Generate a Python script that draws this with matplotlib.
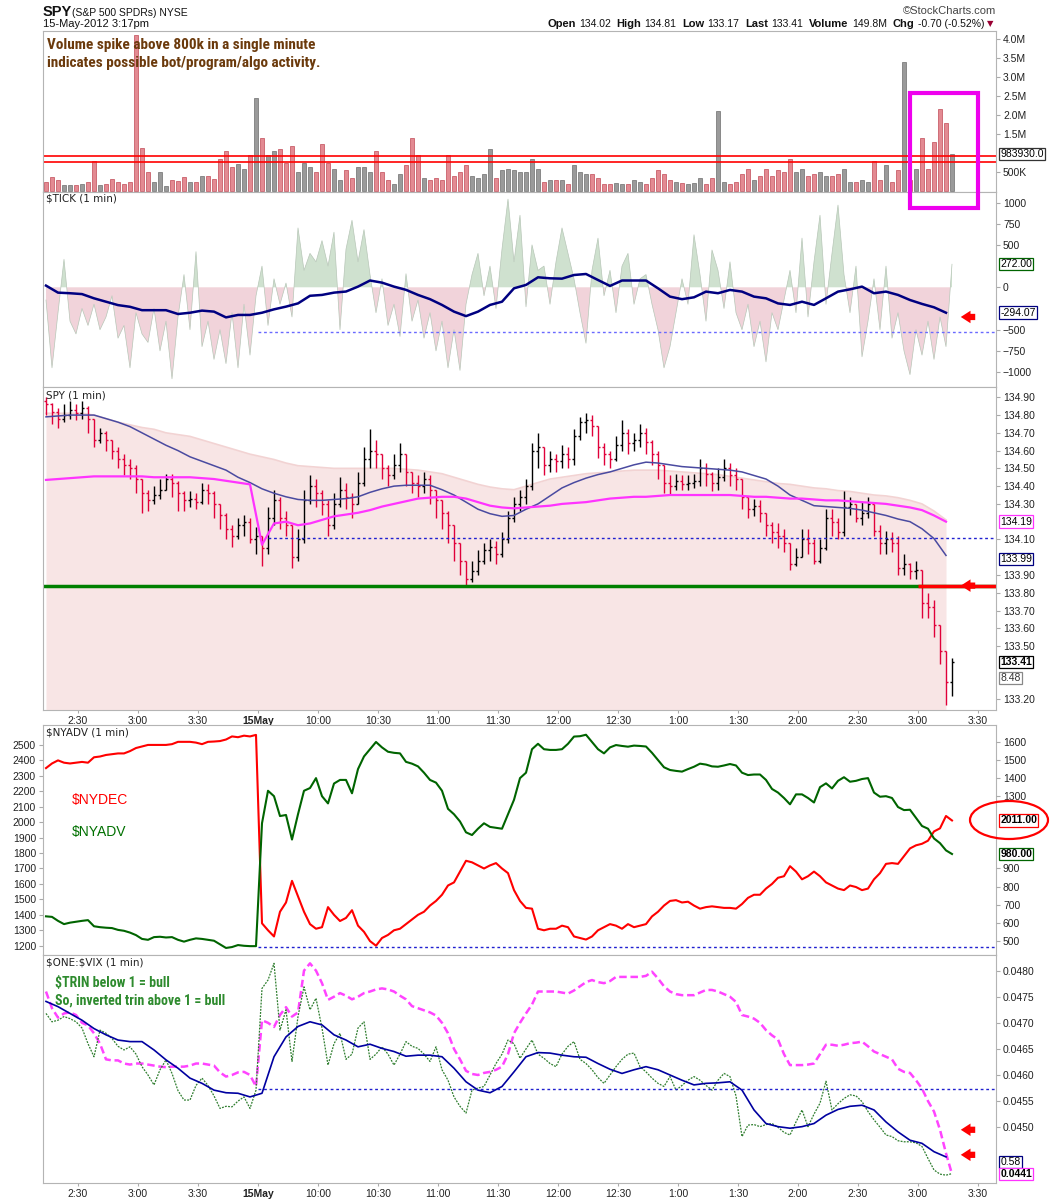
import os
import numpy as np
import matplotlib
matplotlib.use('Agg')
import matplotlib.pyplot as plt
import matplotlib.patches as mpatches
from matplotlib import font_manager
from matplotlib.font_manager import FontProperties

# ---------------- data ----------------
# x = minutes from the 15-May 9:30 open, negative = previous afternoon.
# jagged series sampled every 3 min, smooth averages every 6 min
bar_start, bar_step = -106, 3
ma_start, ma_step = -106, 6

spy_close = [134.86, 134.82, 134.78, 134.80, 134.83, 134.81, 134.84, 134.78, 134.66, 134.70,
             134.66, 134.60, 134.55, 134.52, 134.50, 134.44, 134.36, 134.32, 134.35, 134.38,
             134.44, 134.42, 134.36, 134.32, 134.33, 134.31, 134.38, 134.36, 134.30, 134.24,
             134.16, 134.12, 134.18, 134.20, 134.10, 134.12, 134.05, 134.22, 134.32, 134.22,
             134.18, 134.00, 134.10, 134.32, 134.40, 134.36, 134.30, 134.18, 134.30, 134.38,
             134.34, 134.30, 134.42, 134.55, 134.60, 134.58, 134.50, 134.46, 134.52, 134.58,
             134.48, 134.42, 134.40, 134.44, 134.38, 134.32, 134.25, 134.18, 134.08, 133.98,
             133.88, 133.92, 133.98, 134.04, 134.06, 134.02, 134.10, 134.22, 134.30, 134.34,
             134.40, 134.60, 134.62, 134.52, 134.55, 134.54, 134.58, 134.55, 134.68, 134.76,
             134.77, 134.74, 134.62, 134.58, 134.55, 134.63, 134.70, 134.64, 134.66, 134.70,
             134.65, 134.58, 134.52, 134.42, 134.40, 134.43, 134.41, 134.42, 134.43, 134.50,
             134.47, 134.42, 134.45, 134.50, 134.46, 134.44, 134.34, 134.27, 134.29, 134.25,
             134.18, 134.14, 134.12, 134.08, 133.96, 134.00, 134.10, 134.08, 133.98, 134.05,
             134.22, 134.20, 134.14, 134.28, 134.30, 134.22, 134.25, 134.30, 134.15, 134.08,
             134.10, 134.08, 133.94, 133.96, 133.92, 133.93, 133.74, 133.72, 133.62, 133.47,
             133.30, 133.41]
spy_high = [134.90, 134.87, 134.84, 134.86, 134.88, 134.86, 134.88, 134.85, 134.76, 134.73,
            134.71, 134.66, 134.62, 134.58, 134.55, 134.52, 134.44, 134.38, 134.40, 134.44,
            134.47, 134.47, 134.43, 134.37, 134.37, 134.36, 134.42, 134.41, 134.37, 134.30,
            134.25, 134.18, 134.22, 134.24, 134.22, 134.17, 134.12, 134.28, 134.38, 134.34,
            134.26, 134.18, 134.16, 134.38, 134.46, 134.44, 134.38, 134.32, 134.36, 134.45,
            134.42, 134.36, 134.48, 134.62, 134.72, 134.66, 134.58, 134.52, 134.58, 134.64,
            134.58, 134.48, 134.46, 134.48, 134.46, 134.38, 134.32, 134.26, 134.16, 134.06,
            133.96, 133.98, 134.04, 134.08, 134.10, 134.09, 134.14, 134.26, 134.34, 134.38,
            134.44, 134.64, 134.70, 134.62, 134.60, 134.58, 134.63, 134.62, 134.72, 134.79,
            134.81, 134.80, 134.74, 134.64, 134.60, 134.68, 134.77, 134.72, 134.70, 134.75,
            134.73, 134.66, 134.60, 134.52, 134.46, 134.47, 134.46, 134.46, 134.47, 134.55,
            134.53, 134.48, 134.50, 134.55, 134.53, 134.50, 134.42, 134.32, 134.33, 134.32,
            134.25, 134.20, 134.19, 134.16, 134.06, 134.05, 134.16, 134.16, 134.10, 134.10,
            134.27, 134.27, 134.22, 134.37, 134.34, 134.30, 134.31, 134.34, 134.28, 134.18,
            134.15, 134.14, 134.12, 134.02, 133.97, 133.98, 133.90, 133.80, 133.76, 133.62,
            133.44, 133.43]
spy_low = [134.80, 134.75, 134.73, 134.76, 134.78, 134.77, 134.78, 134.70, 134.62, 134.64,
           134.60, 134.55, 134.50, 134.46, 134.44, 134.36, 134.25, 134.26, 134.30, 134.33,
           134.38, 134.34, 134.26, 134.26, 134.28, 134.27, 134.30, 134.30, 134.22, 134.16,
           134.10, 134.06, 134.10, 134.12, 134.08, 134.02, 133.95, 134.02, 134.18, 134.16,
           134.12, 133.94, 133.98, 134.08, 134.30, 134.28, 134.24, 134.12, 134.16, 134.28,
           134.27, 134.22, 134.30, 134.40, 134.50, 134.50, 134.44, 134.40, 134.44, 134.48,
           134.40, 134.36, 134.34, 134.36, 134.30, 134.22, 134.16, 134.08, 133.98, 133.90,
           133.84, 133.86, 133.90, 133.96, 133.98, 133.96, 134.00, 134.08, 134.20, 134.26,
           134.30, 134.38, 134.50, 134.46, 134.48, 134.48, 134.50, 134.50, 134.52, 134.66,
           134.70, 134.68, 134.56, 134.52, 134.50, 134.54, 134.60, 134.58, 134.60, 134.62,
           134.58, 134.52, 134.44, 134.36, 134.35, 134.38, 134.38, 134.38, 134.39, 134.40,
           134.40, 134.37, 134.38, 134.43, 134.40, 134.38, 134.27, 134.22, 134.23, 134.20,
           134.12, 134.08, 134.05, 134.03, 133.93, 133.95, 134.02, 134.02, 133.96, 133.97,
           134.04, 134.12, 134.10, 134.12, 134.24, 134.20, 134.18, 134.22, 134.12, 134.02,
           134.02, 134.03, 133.90, 133.90, 133.88, 133.88, 133.66, 133.66, 133.55, 133.40,
           133.17, 133.22]
spy_first_open = 134.88

volume_m = [0.25, 0.38, 0.30, 0.18, 0.18, 0.17, 0.20, 0.25, 0.80, 0.18,
            0.20, 0.32, 0.25, 0.20, 0.25, 4.10, 1.15, 0.50, 0.25, 0.50,
            0.15, 0.30, 0.28, 0.38, 0.25, 0.25, 0.40, 0.40, 0.33, 0.85,
            1.05, 0.65, 0.72, 0.60, 0.95, 2.45, 1.40, 0.95, 1.05, 1.10,
            0.75, 1.20, 0.50, 0.75, 0.65, 0.50, 1.25, 0.75, 0.60, 0.30,
            0.55, 0.35, 0.65, 0.65, 0.50, 1.05, 0.50, 0.30, 0.20, 0.45,
            0.70, 1.40, 0.95, 0.35, 0.30, 0.35, 0.30, 0.95, 0.40, 0.50,
            0.70, 0.40, 0.35, 0.45, 1.10, 0.35, 0.55, 0.60, 0.55, 0.50,
            0.50, 0.85, 0.60, 0.25, 0.30, 0.30, 0.30, 0.20, 0.70, 0.50,
            0.45, 0.45, 0.35, 0.20, 0.20, 0.22, 0.20, 0.20, 0.30, 0.25,
            0.20, 0.35, 0.55, 0.45, 0.30, 0.25, 0.22, 0.20, 0.22, 0.35,
            0.20, 0.35, 2.10, 0.25, 0.20, 0.25, 0.45, 0.60, 0.30, 0.40,
            0.60, 0.40, 0.55, 0.50, 0.85, 0.50, 0.60, 0.40, 0.45, 0.50,
            0.40, 0.40, 0.45, 0.60, 0.25, 0.25, 0.30, 0.25, 0.80, 0.30,
            0.70, 0.25, 0.55, 3.40, 0.30, 0.60, 1.40, 0.60, 1.30, 2.15,
            1.80, 0.98]

tick = [-150, -950, -300, 330, -400, -550, -250, -450, -200, -500,
        -350, -100, -600, -450, -950, -300, -550, -650, -250, -750,
        -400, -1080, -350, 150, -500, 420, -700, -400, -850, -500,
        -900, -300, -950, -200, -800, -100, 250, -450, 100, -200,
        50, -350, 700, 200, 400, 300, 550, 250, 650, -500,
        450, 790, 300, 680, 150, -300, 100, -450, -200, -580,
        160, -400, -150, -600, -300, -750, -400, -950, -500, -980,
        -200, 150, 400, -100, 250, -250, 450, 1040, 300, 850,
        -230, 500, 200, 250, -200, 300, 700, 400, 100, -300,
        -660, 200, 580, -100, 200, -300, 250, 400, -200, 100,
        150, -200, -500, -950, -700, -300, 100, -200, 620, 150,
        -400, 440, 200, -250, 300, -300, -500, -200, -700, -400,
        -880, -300, -500, -150, 200, -300, 580, -350, 300, 850,
        -200, 400, 970, 150, -300, 250, -820, -400, 100, -500,
        250, -600, -300, -750, -1030, -500, -800, -400, -850, -350,
        -700, 272]
tick_ma = [20, -63, -70, -80, -130, -170, -210, -230, -270, -270,
           -270, -315, -300, -275, -287, -355, -326, -326, -300, -260,
           -228, -190, -100, -90, -63, -50, 8, 80, 55, 8,
           -30, -90, -140, -208, -287, -340, -287, -208, -170, -12,
           28, 118, 106, 102, 145, 157, 86, 16, 80, 80,
           80, -12, -110, -140, -118, -51, -70, -31, -51, -110,
           -130, -190, -208, -170, -208, -130, -51, -24, 8, -70,
           -51, -90, -150, -196, -236, -300]

spy_band_top = [134.81, 134.81, 134.81, 134.81, 134.80, 134.78, 134.76, 134.745, 134.73, 134.72,
                134.70, 134.69, 134.68, 134.66, 134.64, 134.62, 134.60, 134.58, 134.565, 134.55,
                134.53, 134.515, 134.51, 134.505, 134.50, 134.50, 134.50, 134.50, 134.50, 134.50,
                134.495, 134.49, 134.48, 134.47, 134.45, 134.43, 134.41, 134.395, 134.385, 134.38,
                134.40, 134.42, 134.44, 134.45, 134.46, 134.47, 134.475, 134.48, 134.485, 134.49,
                134.49, 134.49, 134.485, 134.48, 134.475, 134.47, 134.465, 134.455, 134.445, 134.435,
                134.425, 134.415, 134.41, 134.40, 134.39, 134.385, 134.375, 134.37, 134.36, 134.35,
                134.345, 134.335, 134.32, 134.30, 134.26, 134.21]
spy_ma_blue = [134.79, 134.795, 134.80, 134.80, 134.80, 134.78, 134.76, 134.735, 134.70, 134.665,
               134.63, 134.60, 134.565, 134.54, 134.515, 134.49, 134.45, 134.42, 134.385, 134.36,
               134.34, 134.325, 134.32, 134.32, 134.325, 134.33, 134.34, 134.365, 134.385, 134.40,
               134.405, 134.405, 134.405, 134.38, 134.35, 134.31, 134.27, 134.245, 134.23, 134.235,
               134.27, 134.30, 134.345, 134.39, 134.42, 134.445, 134.465, 134.48, 134.50, 134.52,
               134.535, 134.53, 134.52, 134.51, 134.505, 134.50, 134.495, 134.49, 134.48, 134.46,
               134.44, 134.40, 134.35, 134.32, 134.29, 134.285, 134.28, 134.275, 134.265, 134.25,
               134.235, 134.215, 134.20, 134.16, 134.105, 134.01]
spy_ma_magenta = [134.435, 134.44, 134.445, 134.45, 134.455, 134.455, 134.455, 134.455, 134.455, 134.45,
                  134.45, 134.45, 134.45, 134.445, 134.44, 134.43, 134.42, 134.41, 134.07, 134.19,
                  134.20, 134.18, 134.19, 134.21, 134.23, 134.24, 134.25, 134.265, 134.285, 134.30,
                  134.315, 134.33, 134.335, 134.34, 134.34, 134.33, 134.31, 134.29, 134.28, 134.275,
                  134.28, 134.285, 134.29, 134.30, 134.305, 134.31, 134.32, 134.33, 134.335, 134.34,
                  134.34, 134.345, 134.35, 134.35, 134.35, 134.35, 134.35, 134.35, 134.345, 134.34,
                  134.34, 134.335, 134.33, 134.33, 134.325, 134.32, 134.32, 134.315, 134.31, 134.305,
                  134.30, 134.29, 134.28, 134.265, 134.235, 134.20]

nydec = [2350, 2380, 2400, 2385, 2380, 2385, 2390, 2385, 2420, 2425,
         2435, 2440, 2445, 2445, 2460, 2480, 2490, 2500, 2500, 2500,
         2500, 2505, 2520, 2520, 2520, 2515, 2505, 2520, 2522, 2525,
         2535, 2555, 2550, 2560, 2555, 2565, 1345, 1300, 1260, 1420,
         1480, 1620, 1520, 1420, 1340, 1310, 1320, 1450, 1400, 1360,
         1380, 1430, 1330, 1290, 1230, 1200, 1250, 1270, 1300, 1310,
         1340, 1370, 1400, 1420, 1460, 1490, 1530, 1590, 1610, 1680,
         1750, 1740, 1720, 1700, 1720, 1735, 1700, 1670, 1560, 1490,
         1445, 1440, 1310, 1300, 1310, 1310, 1330, 1320, 1260, 1250,
         1240, 1260, 1300, 1320, 1340, 1330, 1310, 1340, 1320, 1330,
         1340, 1390, 1420, 1460, 1490, 1495, 1480, 1485, 1460, 1440,
         1450, 1455, 1450, 1445, 1445, 1440, 1470, 1510, 1530, 1530,
         1570, 1600, 1640, 1650, 1715, 1680, 1630, 1650, 1680, 1650,
         1610, 1590, 1570, 1560, 1590, 1580, 1560, 1570, 1630, 1670,
         1730, 1735, 1730, 1780, 1830, 1850, 1860, 1880, 1940, 1960,
         2040, 2011]
nyadv = [635, 632, 610, 592, 600, 605, 610, 614, 580, 575,
         572, 570, 560, 555, 545, 531, 510, 505, 520, 522,
         518, 520, 505, 495, 505, 513, 510, 505, 500, 480,
         460, 465, 476, 472, 470, 470, 1150, 1330, 1300, 1190,
         1196, 1060, 1200, 1330, 1345, 1400, 1300, 1260, 1370, 1390,
         1390, 1316, 1450, 1520, 1560, 1600, 1570, 1546, 1540, 1537,
         1490, 1480, 1465, 1430, 1390, 1375, 1330, 1230, 1200, 1160,
         1100, 1085, 1120, 1150, 1130, 1125, 1120, 1200, 1280, 1400,
         1430, 1560, 1590, 1560, 1556, 1556, 1560, 1590, 1630, 1632,
         1640, 1600, 1560, 1537, 1570, 1583, 1578, 1574, 1580, 1578,
         1575, 1540, 1500, 1460, 1445, 1440, 1436, 1450, 1463, 1480,
         1475, 1465, 1463, 1470, 1478, 1470, 1430, 1417, 1420, 1420,
         1390, 1340, 1320, 1290, 1255, 1310, 1310, 1290, 1265, 1350,
         1371, 1343, 1385, 1405, 1380, 1385, 1395, 1400, 1320, 1297,
         1300, 1290, 1240, 1223, 1225, 1180, 1135, 1120, 1066, 1040,
         1000, 980]

# $ONE:$VIX and the inverted TRIN, in units of 1e-5 on the panel scale
one_vix_e5 = [4760, 4728, 4710, 4718, 4720, 4715, 4700, 4695, 4680, 4660,
              4630, 4628, 4628, 4622, 4620, 4622, 4622, 4620, 4618, 4616,
              4615, 4616, 4616, 4616, 4618, 4622, 4622, 4620, 4618, 4605,
              4597, 4600, 4605, 4606, 4600, 4578, 4705, 4700, 4692, 4715,
              4730, 4712, 4720, 4800, 4814, 4800, 4776, 4744, 4750, 4757,
              4752, 4745, 4750, 4757, 4760, 4764, 4766, 4764, 4760, 4752,
              4745, 4732, 4728, 4724, 4720, 4714, 4700, 4680, 4650, 4630,
              4608, 4602, 4600, 4604, 4606, 4610, 4616, 4640, 4680, 4700,
              4718, 4735, 4760, 4760, 4760, 4760, 4758, 4756, 4762, 4770,
              4778, 4782, 4778, 4776, 4780, 4788, 4788, 4788, 4788, 4788,
              4790, 4798, 4785, 4770, 4760, 4755, 4753, 4753, 4753, 4758,
              4763, 4763, 4760, 4755, 4750, 4740, 4715, 4712, 4708, 4700,
              4686, 4676, 4668, 4640, 4619, 4619, 4619, 4620, 4622, 4640,
              4658, 4658, 4656, 4658, 4661, 4662, 4664, 4655, 4645, 4640,
              4635, 4630, 4612, 4606, 4604, 4590, 4574, 4550, 4530, 4495,
              4450, 4410]
trin_inv_e5 = [4718, 4702, 4705, 4712, 4708, 4702, 4690, 4660, 4635, 4686,
               4680, 4670, 4655, 4648, 4654, 4640, 4616, 4600, 4581, 4610,
               4629, 4603, 4570, 4552, 4552, 4580, 4594, 4580, 4560, 4536,
               4540, 4539, 4550, 4558, 4536, 4571, 4766, 4782, 4814, 4686,
               4725, 4626, 4712, 4769, 4725, 4747, 4690, 4619, 4660, 4680,
               4630, 4640, 4690, 4702, 4630, 4640, 4654, 4640, 4619, 4640,
               4664, 4655, 4651, 4640, 4626, 4654, 4610, 4590, 4558, 4540,
               4527, 4571, 4575, 4578, 4600, 4622, 4640, 4667, 4660, 4632,
               4650, 4667, 4640, 4632, 4622, 4616, 4640, 4655, 4664, 4630,
               4622, 4610, 4595, 4584, 4600, 4616, 4630, 4640, 4642, 4616,
               4606, 4594, 4584, 4578, 4597, 4571, 4580, 4590, 4597, 4590,
               4580, 4571, 4590, 4603, 4597, 4560, 4482, 4504, 4505, 4501,
               4505, 4507, 4500, 4490, 4485, 4510, 4533, 4501, 4525, 4546,
               4588, 4533, 4545, 4555, 4562, 4560, 4549, 4530, 4514, 4500,
               4485, 4482, 4474, 4472, 4472, 4470, 4463, 4440, 4418, 4410,
               4408, 4411]
trin_ma_e5 = [4741, 4731, 4718, 4705, 4689, 4677, 4667, 4664, 4664, 4648,
              4629, 4613, 4594, 4584, 4571, 4566, 4565, 4558, 4565, 4635,
              4673, 4693, 4702, 4696, 4677, 4667, 4654, 4659, 4651, 4645,
              4636, 4638, 4638, 4635, 4613, 4587, 4571, 4566, 4578, 4606,
              4635, 4643, 4642, 4638, 4635, 4634, 4622, 4611, 4603, 4610,
              4616, 4610, 4600, 4590, 4581, 4584, 4585, 4587, 4571, 4533,
              4507, 4501, 4498, 4501, 4507, 4523, 4534, 4540, 4542, 4533,
              4510, 4491, 4475, 4469, 4453, 4443]

time_ticks = [-90, -60, -30, 0, 30, 60, 90, 120, 150, 180, 210, 240, 270, 300, 330, 360]
time_labels = ['2:30', '3:00', '3:30', '15May', '10:00', '10:30', '11:00', '11:30',
               '12:00', '12:30', '1:00', '1:30', '2:00', '2:30', '3:00', '3:30']

# right-axis labels that stay visible (the others sit under the value tags)
vol_ticks = [0.5, 1.5, 2.0, 2.5, 3.0, 3.5, 4.0]
vol_tick_labels = ['500K', '1.5M', '2.0M', '2.5M', '3.0M', '3.5M', '4.0M']
tick_ticks = [-1000, -750, -500, 0, 500, 750, 1000]
spy_ticks = [133.2, 133.5, 133.6, 133.7, 133.8, 133.9, 134.1, 134.3, 134.4, 134.5,
             134.6, 134.7, 134.8, 134.9]
dec_ticks = list(range(1200, 2501, 100))
adv_ticks = [500, 600, 700, 800, 900, 1300, 1400, 1500, 1600]
vix_ticks = [0.045, 0.0455, 0.046, 0.0465, 0.047, 0.0475, 0.048]

vol_lines = [0.92, 0.77]
tick_dotted = -530
spy_support = 133.84
spy_dotted = 134.11
adv_dotted = 463
vix_dotted = 0.04573
vix_arrows = [0.04495, 0.04447]

# ---------------- setup ----------------
plt.rcParams['font.family'] = ['Liberation Sans', 'DejaVu Sans']
plt.rcParams['text.parse_math'] = False


def find_font(bold):
    prefs = ['liberationsansnarrow', 'robotocondensed', 'opensanscondensed', 'dejavusanscondensed']
    files = [f.fname for f in font_manager.fontManager.ttflist]
    for p in prefs:
        for fn in files:
            base = os.path.basename(fn).lower().replace('-', '').replace('_', '')
            if not base.startswith(p) or 'italic' in base or 'oblique' in base:
                continue
            rest = base[len(p):]
            if bold and rest.startswith('bold'):
                return fn
            if not bold and (rest.startswith('regular') or rest.startswith('.ttf')):
                return fn
    return None


narrow_reg = find_font(False)
narrow_bold = find_font(True)


def nprops(size, bold=False):
    fn = narrow_bold if bold else narrow_reg
    if fn:
        return FontProperties(fname=fn, size=size)
    return FontProperties(family='Liberation Sans', size=size * 0.85,
                          weight='bold' if bold else 'normal')


bar_t = bar_start + bar_step * np.arange(len(spy_close))
ma_t = ma_start + ma_step * np.arange(len(spy_ma_blue))
close = np.array(spy_close)
opens = np.r_[spy_first_open, close[:-1]]
up = close >= opens
x_lo, x_hi = -107.5, 369

W, H = 1050, 1200
fig = plt.figure(figsize=(W / 100, H / 100), dpi=100)


def fx(px):
    return px / W


def fy(py):
    return 1 - py / H


def ntext(px, py, s, size, bold=False, **kw):
    kw.setdefault('va', 'center')
    return fig.text(fx(px), fy(py), s, fontproperties=nprops(size, bold), **kw)


def htext(px, py, s, size, bold=False, **kw):
    kw.setdefault('va', 'center')
    kw.setdefault('color', '#111111')
    return fig.text(fx(px), fy(py), s, fontsize=size, fontweight='bold' if bold else 'normal',
                    family=['Liberation Sans', 'DejaVu Sans'], **kw)


def panel(top, bottom):
    ax = fig.add_axes([fx(43), fy(bottom), (996 - 43) / W, (bottom - top) / H])
    for s in ax.spines.values():
        s.set_color('#b4b4b4')
        s.set_linewidth(0.8)
    ax.yaxis.tick_right()
    ax.tick_params(axis='y', labelsize=7.5, length=3, color='#aaaaaa', pad=2, labelcolor='#222222')
    ax.set_xlim(x_lo, x_hi)
    ax.set_xticks(time_ticks)
    ax.tick_params(axis='x', length=0, labelbottom=False)
    return ax


def time_axis(ax):
    ax.tick_params(axis='x', labelbottom=True, length=2, color='#aaaaaa', labelsize=7.5, pad=2,
                   labelcolor='#222222')
    ax.set_xticklabels(time_labels)
    for lab in ax.get_xticklabels():
        if lab.get_text() == '15May':
            lab.set_fontweight('bold')


def tag(ax, y, text, ec, bold=False, tc='black'):
    ax.annotate(text, xy=(1, y), xycoords=('axes fraction', 'data'), xytext=(3, 0),
                textcoords='offset points', ha='left', va='center', fontsize=7.5,
                fontweight='bold' if bold else 'normal', color=tc, annotation_clip=False,
                bbox=dict(boxstyle='square,pad=0.12', fc='white', ec=ec, lw=0.9), zorder=10)


def red_arrow(ax, y):
    ax.annotate('', xy=(350, y), xytext=(360, y),
                arrowprops=dict(arrowstyle='simple,head_width=0.9,head_length=0.7,tail_width=0.45',
                                color='#ff0000', lw=0), annotation_clip=False)


def panel_title(ax, text):
    ax.text(0.003, 0.99, text, transform=ax.transAxes, ha='left', va='top', fontsize=7.5,
            color='#222222', family=['DejaVu Sans'])


# ---------------- volume ----------------
ax_vol = panel(31, 192)
ax_vol.bar(bar_t, volume_m, width=2.3, color=np.where(up, '#9a9a9a', '#e38a92'),
           edgecolor=np.where(up, '#6e6e6e', '#c24b57'), linewidth=0.5)
for v in vol_lines:
    ax_vol.axhline(v, color='#ff0000', lw=1.2)
ax_vol.set_ylim(-0.015, 4.2)
ax_vol.set_yticks(vol_ticks)
ax_vol.set_yticklabels(vol_tick_labels)
tag(ax_vol, volume_m[-1], '983930.0', '#333333')
ntext(47, 45, 'Volume spike above 800k in a single minute', 11, True, color='#6b3a0c')
ntext(47, 63, 'indicates possible bot/program/algo activity.', 11, True, color='#6b3a0c')

# ---------------- $TICK ----------------
ax_tick = panel(192, 387)
tk = np.array(tick, dtype=float)
ax_tick.fill_between(bar_t, tk, 0, where=tk >= 0, interpolate=True, color='#cfe1cf', lw=0)
ax_tick.fill_between(bar_t, tk, 0, where=tk <= 0, interpolate=True, color='#f1d3da', lw=0)
ax_tick.plot(bar_t, tk, color='#b7c6b7', lw=0.5)
ax_tick.plot(ma_t, tick_ma, color='#000080', lw=1.8)
ax_tick.hlines(tick_dotted, 0, x_hi, colors='#6a6aff', linestyles=(0, (2, 2)), lw=1)
ax_tick.set_ylim(-1176, 1124)
ax_tick.set_yticks(tick_ticks)
panel_title(ax_tick, '$TICK (1 min)')
tag(ax_tick, tick[-1], '272.00', '#006400')
tag(ax_tick, tick_ma[-1], '-294.07', '#000080')
red_arrow(ax_tick, tick_ma[-1] - 50)

# ---------------- SPY ----------------
ax_spy = panel(387, 710)
spy_ylim = (133.14, 134.958)
ax_spy.fill_between(ma_t, spy_band_top, spy_ylim[0], color='#f8e5e5', lw=0)
ax_spy.plot(ma_t, spy_band_top, color='#f2d3d3', lw=1.2)
hi = np.maximum.reduce([np.array(spy_high), close, opens])
lo = np.minimum.reduce([np.array(spy_low), close, opens])
bar_col = np.where(up, '#000000', '#e0003a')
ax_spy.vlines(bar_t, lo, hi, colors=bar_col, lw=1.0)
ax_spy.hlines(opens, bar_t - 1, bar_t, colors=bar_col, lw=1.0)
ax_spy.hlines(close, bar_t, bar_t + 1, colors=bar_col, lw=1.0)
ax_spy.plot(ma_t, spy_ma_blue, color='#4a4aa0', lw=1.1)
ax_spy.plot(ma_t, spy_ma_magenta, color='#ff33ff', lw=1.6)
ax_spy.axhline(spy_support, color='#008000', lw=2.5)
ax_spy.hlines(spy_support, 330, x_hi, colors='#ff0000', lw=2.5)
ax_spy.hlines(spy_dotted, 5, x_hi, colors='#2020d0', linestyles=(0, (2, 2)), lw=1)
ax_spy.set_ylim(*spy_ylim)
ax_spy.set_yticks(spy_ticks)
ax_spy.yaxis.set_major_formatter(matplotlib.ticker.FormatStrFormatter('%.2f'))
panel_title(ax_spy, 'SPY (1 min)')
time_axis(ax_spy)
tag(ax_spy, spy_ma_magenta[-1], '134.19', '#ff33ff')
tag(ax_spy, spy_ma_blue[-1] - 0.02, '133.99', '#000080')
tag(ax_spy, close[-1], '133.41', '#000000', bold=True)
tag(ax_spy, 133.32, '8.48', '#888888', tc='#333333')
red_arrow(ax_spy, spy_support)

# ---------------- $NYADV / $NYDEC ----------------
ax_dec = panel(725, 955)
ax_dec.yaxis.tick_left()
ax_dec.tick_params(axis='y', labelsize=7.5, length=3, color='#aaaaaa', pad=2)
ax_dec.plot(bar_t, nydec, color='#ff0000', lw=1.5)
ax_dec.set_ylim(1140, 2629)
ax_dec.set_yticks(dec_ticks)
ax_adv = ax_dec.twinx()
ax_adv.set_xlim(x_lo, x_hi)
for s in ax_adv.spines.values():
    s.set_visible(False)
ax_adv.tick_params(axis='y', labelsize=7.5, length=3, color='#aaaaaa', pad=2, labelcolor='#222222')
ax_adv.plot(bar_t, nyadv, color='#006400', lw=1.5)
ax_adv.hlines(adv_dotted, 0, x_hi, colors='#2020d0', linestyles=(0, (2, 2)), lw=1)
ax_adv.set_ylim(421, 1694)
ax_adv.set_yticks(adv_ticks)
panel_title(ax_dec, '$NYADV (1 min)')
tag(ax_dec, nydec[-1], '2011.00', '#ff0000', bold=True)
tag(ax_adv, nyadv[-1], '980.00', '#006400', bold=True)
htext(72, 800, '$NYDEC', 10, color='#ff0000')
htext(72, 832, '$NYADV', 10, color='#007000')
fig.add_artist(mpatches.Ellipse((fx(1009), fy(820)), 78 / W, 38 / H, transform=fig.transFigure,
                                fill=False, ec='#ff0000', lw=1.6))

# ---------------- $ONE:$VIX ----------------
ax_vix = panel(955, 1183)
ax_vix.plot(bar_t, np.array(one_vix_e5) / 1e5, color='#ff44ff', lw=1.8, ls=(0, (3, 1.5)))
ax_vix.plot(bar_t, np.array(trin_inv_e5) / 1e5, color='#2e7d2e', lw=0.9, ls=(0, (1.5, 1)))
ax_vix.plot(ma_t, np.array(trin_ma_e5) / 1e5, color='#0000a0', lw=1.2)
ax_vix.hlines(vix_dotted, 0, x_hi, colors='#2020d0', linestyles=(0, (2, 2)), lw=1)
ax_vix.set_ylim(0.04393, 0.0483)
ax_vix.set_yticks(vix_ticks)
ax_vix.yaxis.set_major_formatter(matplotlib.ticker.FormatStrFormatter('%.4f'))
panel_title(ax_vix, '$ONE:$VIX (1 min)')
time_axis(ax_vix)
tag(ax_vix, 0.04433, '0.58', '#000080')
tag(ax_vix, one_vix_e5[-1] / 1e5, '0.0441', '#ff33ff', bold=True)
for v in vix_arrows:
    red_arrow(ax_vix, v)
ntext(55, 983, '$TRIN below 1 = bull', 10, True, color='#2e8b2e')
ntext(55, 1001, 'So, inverted trin above 1 = bull', 10, True, color='#2e8b2e')

# magenta box over the last half hour of volume
fig.add_artist(mpatches.Rectangle((fx(910), fy(208)), 68 / W, 115 / H, transform=fig.transFigure,
                                  fill=False, ec='#ee00ee', lw=3))

# ---------------- header ----------------
htext(43, 12, 'SPY', 10.5, True)
htext(72, 12.5, '(S&P 500 SPDRs) NYSE', 7.5)
htext(43, 24, '15-May-2012 3:17pm', 8)
htext(996, 11, '\u00a9StockCharts.com', 8, color='#444444', ha='right')

quote = [('Open', '134.02'), ('High', '134.81'), ('Low', '133.17'), ('Last', '133.41'),
         ('Volume', '149.8M'), ('Chg', '-0.70 (-0.52%)')]
renderer = fig.canvas.get_renderer()
x_right = 984
for label, value in reversed(quote):
    for s, is_bold in ((value, False), (label, True)):
        t = htext(x_right, 24, s, 7.5 if not is_bold else 8, is_bold, ha='right')
        x_right -= t.get_window_extent(renderer).width + (3 if not is_bold else 6)
fig.text(fx(993), fy(24), '\u25bc', fontsize=6, color='#990033', ha='right', va='center',
         family=['DejaVu Sans'])

fig.savefig('out.png', dpi=100)
